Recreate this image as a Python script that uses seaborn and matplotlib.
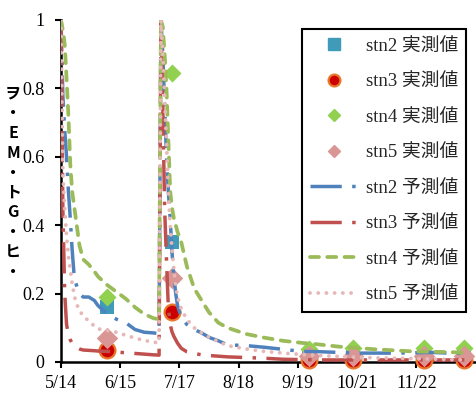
import matplotlib
matplotlib.use("Agg")
import matplotlib.pyplot as plt
import seaborn as sns
import pandas as pd
from matplotlib.lines import Line2D

# ---------------- data ----------------
start_date = "2013-05-14"
pred_day = [0, 1, 2, 3, 4, 5, 6, 7, 8, 10, 12, 15, 18, 20, 25, 30, 35, 40, 45, 50, 53,
            54, 55, 56, 57, 58, 59, 60, 61, 62, 63, 65, 68, 72, 76, 80, 85, 90, 100,
            110, 120, 130, 140, 150, 160, 170, 180, 190, 200, 210, 218]
stn2_pred = [1.0, 0.78, 0.68, 0.6, 0.5, 0.42, 0.33, 0.26, 0.23, 0.2, 0.19, 0.19, 0.18, 0.165,
             0.14, 0.125, 0.115, 0.095, 0.087, 0.085, 0.083,
             1.0, 0.9, 0.75, 0.6, 0.5, 0.42, 0.32, 0.25, 0.2, 0.165, 0.13, 0.11, 0.095, 0.085,
             0.072, 0.062, 0.05, 0.048, 0.043, 0.037, 0.031, 0.03, 0.028, 0.026, 0.026,
             0.026, 0.027, 0.028, 0.026, 0.025]
stn3_pred = [1.0, 0.45, 0.2, 0.11, 0.08, 0.065, 0.055, 0.048, 0.044, 0.038, 0.035, 0.034,
             0.033, 0.032, 0.031, 0.029, 0.027, 0.025, 0.023, 0.021, 0.02,
             1.0, 0.75, 0.45, 0.3, 0.16, 0.11, 0.088, 0.075, 0.065, 0.055, 0.04, 0.03,
             0.025, 0.021, 0.019, 0.017, 0.015, 0.013, 0.011, 0.008, 0.007, 0.006, 0.006,
             0.006, 0.006, 0.006, 0.006, 0.006, 0.006, 0.006]
stn4_pred = [1.0, 0.97, 0.93, 0.83, 0.72, 0.58, 0.5, 0.46, 0.42, 0.34, 0.3, 0.285, 0.265,
             0.25, 0.225, 0.205, 0.185, 0.16, 0.14, 0.128, 0.125,
             1.0, 0.98, 0.9, 0.8, 0.65, 0.5, 0.45, 0.42, 0.4, 0.38, 0.35, 0.28, 0.215,
             0.18, 0.145, 0.115, 0.1, 0.082, 0.071, 0.062, 0.056, 0.051, 0.045, 0.041,
             0.037, 0.034, 0.031, 0.03, 0.029, 0.027]
stn5_pred = [1.0, 0.55, 0.45, 0.37, 0.31, 0.27, 0.23, 0.2, 0.175, 0.15, 0.135, 0.12, 0.105,
             0.097, 0.092, 0.087, 0.078, 0.07, 0.063, 0.058, 0.056,
             1.0, 0.9, 0.78, 0.64, 0.5, 0.4, 0.33, 0.27, 0.22, 0.19, 0.155, 0.125, 0.1,
             0.085, 0.072, 0.06, 0.048, 0.038, 0.031, 0.026, 0.022, 0.019, 0.016, 0.014,
             0.012, 0.011, 0.01, 0.009, 0.007, 0.006]

obs_day = [25, 60, 134, 158, 196, 218]
stn2_obs = [0.16, 0.35, 0.02, 0.02, 0.02, 0.02]
stn3_obs = [0.035, 0.145, 0.005, 0.005, 0.005, 0.005]
stn4_obs = [0.19, 0.845, 0.038, 0.042, 0.042, 0.04]
stn5_obs = [0.07, 0.245, 0.018, 0.018, 0.018, 0.018]

tick_day = [0, 32, 64, 96, 128, 160, 192]
tick_labels = ["5/14", "6/15", "7/17", "8/18", "9/19", "10/21", "11/22"]
xlim_day = [0, 224]
y_ticks = [0, 0.2, 0.4, 0.6, 0.8, 1.0]
y_tick_labels = ["0", "0.2", "0.4", "0.6", "0.8", "1"]
ylabel_text = "ヲ・EM・トG・ヒ・"

obs_labels = ["stn2 実測値", "stn3 実測値", "stn4 実測値", "stn5 実測値"]
pred_labels = ["stn2 予測値", "stn3 予測値", "stn4 予測値", "stn5 予測値"]

# ---------------- style ----------------
sns.set_theme(style="white")
plt.rcParams['font.family'] = ['Liberation Serif', 'Noto Sans CJK JP']
plt.rcParams['axes.unicode_minus'] = False

t0 = pd.Timestamp(start_date)
to_date = lambda d: t0 + pd.to_timedelta(d, unit="D")
pred_dates = to_date(pred_day)
obs_dates = to_date(obs_day)

W, H = 476, 396
fig = plt.figure(figsize=(W / 100, H / 100), dpi=100)
ax = fig.add_axes([61 / W, 34 / H, 414.5 / W, 342 / H])

# measured points
obs_specs = [
    (stn2_obs, dict(marker="s", s=115, color="#3F9BB8", edgecolor="#3F9BB8", linewidth=0)),
    (stn3_obs, dict(marker="o", s=130, color="#CC0000", edgecolor="#E8782A", linewidth=1.6)),
    (stn4_obs, dict(marker="D", s=85, color="#92D050", edgecolor="#92D050", linewidth=0)),
    (stn5_obs, dict(marker="D", s=120, color="#D99694", edgecolor="#D99694", linewidth=0)),
]
for vals, kw in obs_specs:
    sns.scatterplot(x=obs_dates, y=vals, ax=ax, zorder=3, clip_on=False, legend=False, **kw)

# predicted lines
pred_specs = [
    (stn2_pred, dict(color="#4F81BD", linewidth=2.5, linestyle=(0, (9, 3, 1, 3)))),
    (stn3_pred, dict(color="#C0504D", linewidth=2.5, linestyle=(0, (9, 3, 1, 3)))),
    (stn4_pred, dict(color="#9BBB59", linewidth=2.7, linestyle=(0, (2.4, 2.2)),
                     dash_capstyle="round")),
    (stn5_pred, dict(color="#E6B9B8", linewidth=2.8, linestyle=(0, (0.01, 2.1)),
                     dash_capstyle="round")),
]
line_handles = []
for vals, kw in pred_specs:
    n_before = len(ax.lines)
    sns.lineplot(x=pred_dates, y=vals, ax=ax, zorder=4, estimator=None, sort=False,
                 legend=False, **kw)
    line_handles.append(ax.lines[n_before])

ax.set_xlim(to_date(xlim_day[0]), to_date(xlim_day[1]))
ax.set_ylim(0, 1)
ax.set_xticks(to_date(tick_day))
ax.set_xticklabels(tick_labels)
ax.set_yticks(y_ticks)
ax.set_yticklabels(y_tick_labels)
ax.set_xlabel("")
ax.set_ylabel("")

for side in ["top", "right"]:
    ax.spines[side].set_visible(False)
for side in ["left", "bottom"]:
    ax.spines[side].set_color("black")
    ax.spines[side].set_linewidth(1.8)
ax.tick_params(axis="both", direction="out", length=4, width=1.5, color="black",
               labelsize=13, labelcolor="black", bottom=True, left=True)
ax.tick_params(axis="y", pad=8)
ax.tick_params(axis="x", pad=5)

# legend
marker_handles = [
    Line2D([], [], linestyle="none", marker="s", markersize=9, color="#3F9BB8"),
    Line2D([], [], linestyle="none", marker="o", markersize=8.5, markerfacecolor="#CC0000",
           markeredgecolor="#E8782A", markeredgewidth=1.6),
    Line2D([], [], linestyle="none", marker="D", markersize=6.5, color="#92D050"),
    Line2D([], [], linestyle="none", marker="D", markersize=6.5, color="#D99694"),
]
leg = ax.legend(marker_handles + line_handles, obs_labels + pred_labels,
                loc="upper left", bbox_to_anchor=(302 / W, 1 - 29 / H),
                bbox_transform=fig.transFigure, borderaxespad=0, fontsize=13.5,
                frameon=True, fancybox=False, edgecolor="black", framealpha=1,
                handlelength=2.5, handletextpad=0.45, labelspacing=0.98, borderpad=0.45)
leg.get_frame().set_linewidth(1.5)

# vertical (stacked) y-axis label
for i, ch in enumerate(ylabel_text):
    fig.text(13 / W, 1 - (93 + i * 19.9) / H, ch, ha="center", va="center",
             fontsize=11.5, fontweight="bold", family=["Noto Sans CJK JP", "DejaVu Sans"],
             color="black")

fig.savefig("out.png", dpi=100)
